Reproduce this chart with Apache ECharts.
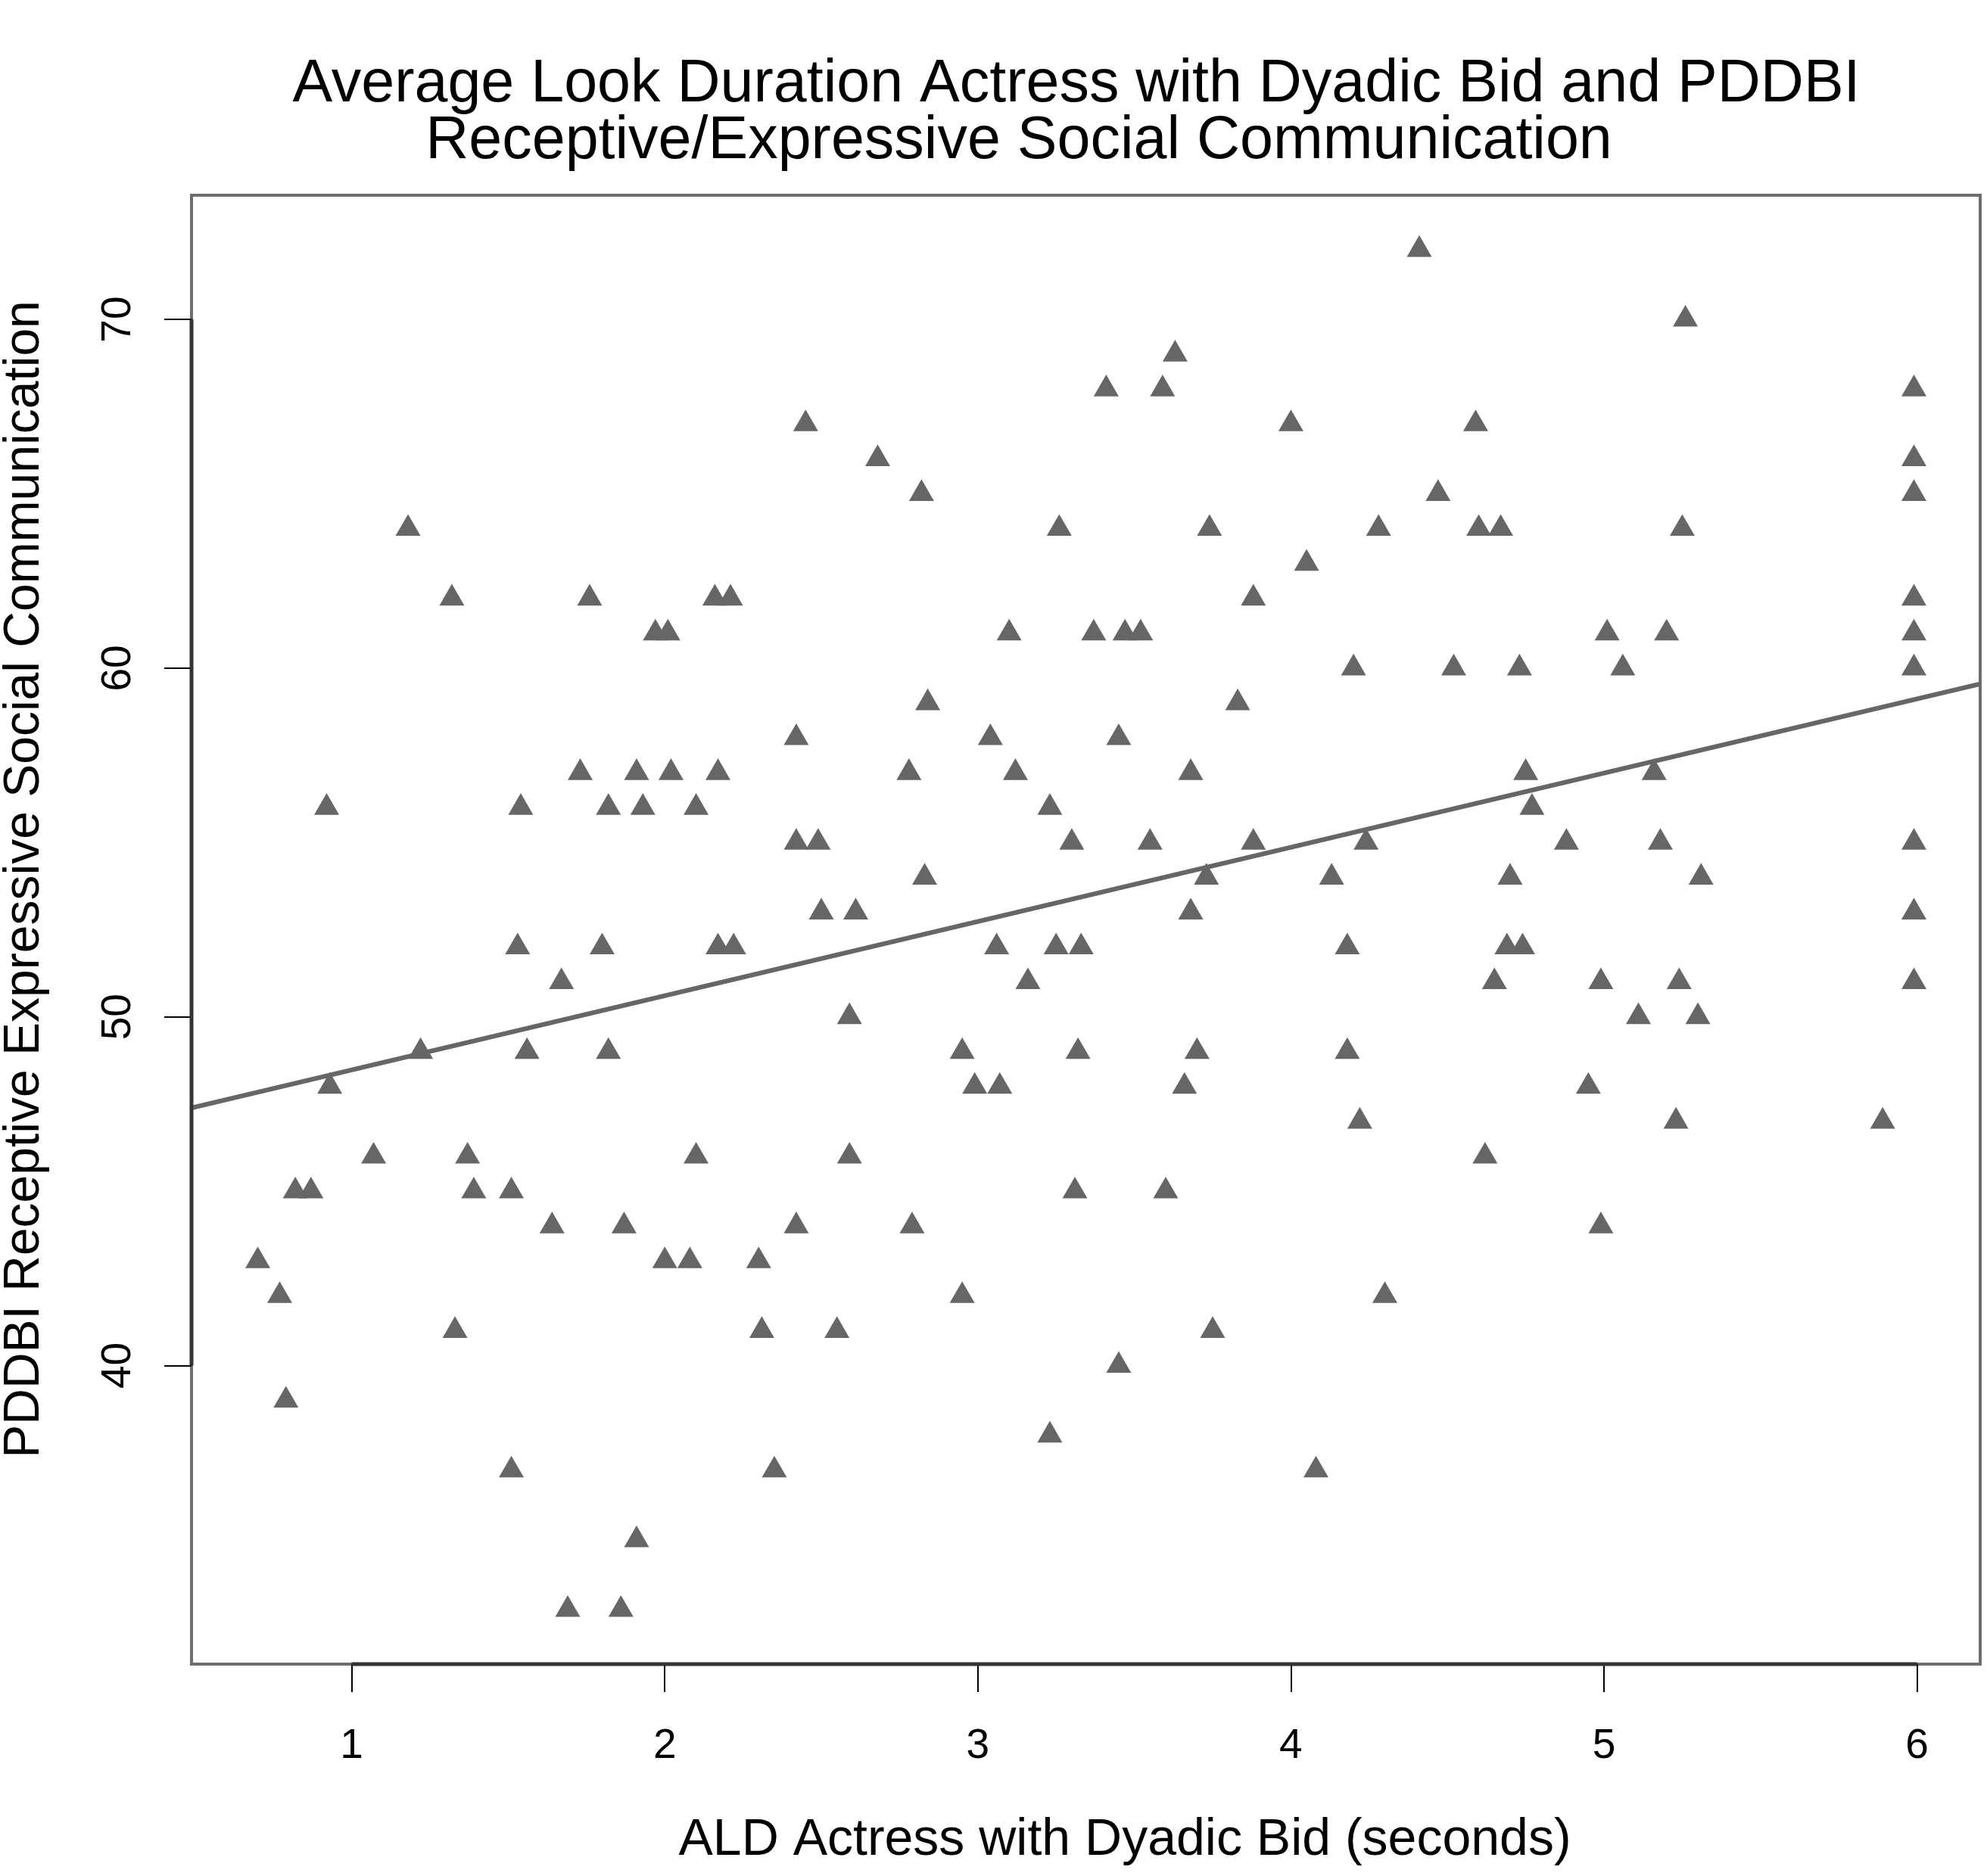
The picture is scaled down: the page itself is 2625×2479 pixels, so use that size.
<!DOCTYPE html>
<html>
<head>
<meta charset="utf-8">
<script src="https://cdn.jsdelivr.net/npm/echarts@6/dist/echarts.min.js"></script>
<style>
html,body{margin:0;padding:0;background:#fff;}
#chart{width:2625px;height:2479px;}
</style>
</head>
<body>
<div id="chart"></div>
<script>
// ---- Data ----
const titleLine1 = "Average Look Duration Actress with Dyadic Bid and PDDBI";
const titleLine2 = "Receptive/Expressive Social Communication";
const xAxisTitle = "ALD Actress with Dyadic Bid (seconds)";
const yAxisTitle = "PDDBI Receptive Expressive Social Communication";

const xTicks = [1, 2, 3, 4, 5, 6];
const yTicks = [40, 50, 60, 70];

const aldSeconds = [
  0.70, 0.77, 0.79, 0.82, 0.87, 0.92, 0.93, 1.07, 1.18, 1.22,
  1.32, 1.33, 1.37, 1.39, 1.51, 1.51, 1.53, 1.54, 1.56, 1.64,
  1.67, 1.69, 1.73, 1.76, 1.80, 1.82, 1.82, 1.86, 1.87, 1.91,
  1.91, 1.93, 1.97, 2.01, 2.00, 2.02, 2.08, 2.10, 2.10, 2.16,
  2.17, 2.17, 2.21, 2.22, 2.30, 2.31, 2.35, 2.42, 2.42, 2.42,
  2.45, 2.49, 2.50, 2.55, 2.59, 2.59, 2.61, 2.68, 2.78, 2.79,
  2.82, 2.83, 2.84, 2.95, 2.95, 2.99, 3.04, 3.06, 3.07, 3.10,
  3.12, 3.16, 3.23, 3.23, 3.25, 3.26, 3.30, 3.32, 3.31, 3.33,
  3.37, 3.41, 3.45, 3.45, 3.47, 3.52, 3.55, 3.59, 3.60, 3.63,
  3.66, 3.68, 3.68, 3.70, 3.73, 3.74, 3.75, 3.83, 3.88, 3.88,
  4.00, 4.05, 4.08, 4.13, 4.18, 4.18, 4.20, 4.22, 4.24, 4.28,
  4.30, 4.41, 4.47, 4.52, 4.59, 4.60, 4.62, 4.65, 4.67, 4.69,
  4.70, 4.73, 4.74, 4.75, 4.77, 4.88, 4.95, 4.99, 4.99, 5.01,
  5.06, 5.11, 5.16, 5.18, 5.20, 5.23, 5.24, 5.25, 5.26, 5.30,
  5.31, 5.89, 5.99, 5.99, 5.99, 5.99, 5.99, 5.99, 5.99, 5.99,
  5.99
];
const pddbiScores = [
  43, 42, 39, 45, 45, 56, 48, 46, 64, 49,
  62, 41, 46, 45, 45, 37, 52, 56, 49, 44,
  51, 33, 57, 62, 52, 56, 49, 33, 44, 35,
  57, 56, 61, 61, 43, 57, 43, 56, 46, 62,
  57, 52, 62, 52, 43, 41, 37, 58, 55, 44,
  67, 55, 53, 41, 50, 46, 53, 66, 57, 44,
  65, 54, 59, 42, 49, 48, 58, 52, 48, 61,
  57, 51, 56, 38, 52, 64, 55, 49, 45, 52,
  61, 68, 58, 40, 61, 61, 55, 68, 45, 69,
  48, 53, 57, 49, 54, 64, 41, 59, 62, 55,
  67, 63, 37, 54, 52, 49, 60, 47, 55, 64,
  42, 72, 65, 60, 67, 64, 46, 51, 64, 52,
  54, 60, 52, 57, 56, 55, 48, 51, 44, 61,
  60, 50, 57, 55, 61, 47, 51, 64, 70, 50,
  54, 47, 68, 66, 65, 62, 61, 60, 55, 53,
  51
];

// ---- Derived ----
const points = aldSeconds.map((x, i) => [x, pddbiScores[i]]);
function rExtent(arr) { // R default axis extension of 4%
  const lo = Math.min(...arr), hi = Math.max(...arr), d = (hi - lo) * 0.04;
  return [lo - d, hi + d];
}
const [xMin, xMax] = rExtent(aldSeconds);
const [yMin, yMax] = rExtent(pddbiScores);

// least-squares fit
const n = aldSeconds.length;
const mx = aldSeconds.reduce((s, v) => s + v, 0) / n;
const my = pddbiScores.reduce((s, v) => s + v, 0) / n;
let sxy = 0, sxx = 0;
for (let i = 0; i < n; i++) { sxy += (aldSeconds[i] - mx) * (pddbiScores[i] - my); sxx += (aldSeconds[i] - mx) ** 2; }
const slope = sxy / sxx, intercept = my - slope * mx;
const fitLine = [[xMin, intercept + slope * xMin], [xMax, intercept + slope * xMax]];

const FONT = '"Liberation Sans", Arial, Helvetica, sans-serif';
const GRAY = '#666666';

const chart = echarts.init(document.getElementById('chart'), null, { renderer: 'canvas' });
chart.setOption({
  backgroundColor: '#ffffff',
  animation: false,
  textStyle: { fontFamily: FONT },
  graphic: [
    { type: 'text', x: 1422, y: 112, style: { text: titleLine1, fontSize: 79, fontFamily: FONT, fill: '#000', align: 'center', verticalAlign: 'middle' } },
    { type: 'text', x: 1346, y: 187, style: { text: titleLine2, fontSize: 79, fontFamily: FONT, fill: '#000', align: 'center', verticalAlign: 'middle' } },
    { type: 'text', x: 1486, y: 2432, style: { text: xAxisTitle, fontSize: 68, fontFamily: FONT, fill: '#000', align: 'center', verticalAlign: 'middle' } },
    { type: 'text', x: 33, y: 1162, rotation: Math.PI / 2, style: { text: yAxisTitle, fontSize: 66, fontFamily: FONT, fill: '#000', align: 'center', verticalAlign: 'middle' } }
  ],
  grid: {
    left: 253, right: 9, top: 258, bottom: 280,
    containLabel: false, outerBoundsMode: 'none',
    show: true, borderColor: '#6e6e6e', borderWidth: 4, backgroundColor: 'transparent'
  },
  xAxis: {
    type: 'value', min: xMin, max: xMax,
    axisLine: { show: false },
    axisTick: { show: true, length: 37, lineStyle: { color: '#000', width: 2 }, customValues: xTicks },
    axisLabel: { show: true, fontSize: 55, color: '#000', margin: 81, customValues: xTicks, formatter: v => String(v) },
    splitLine: { show: false }
  },
  yAxis: {
    type: 'value', min: yMin, max: yMax,
    axisLine: { show: false },
    axisTick: { show: true, length: 36, lineStyle: { color: '#000', width: 2 }, customValues: yTicks },
    axisLabel: { show: true, fontSize: 55, color: '#000', margin: 69, rotate: 90, customValues: yTicks, formatter: v => String(v) },
    splitLine: { show: false }
  },
  series: [
    { // bottom axis segment from first to last tick
      type: 'line', data: [[xTicks[0], yMin], [xTicks[xTicks.length - 1], yMin]],
      symbol: 'none', clip: false, silent: true, z: 5,
      lineStyle: { color: '#333333', width: 5 }
    },
    { // left axis segment from first to last tick
      type: 'line', data: [[xMin, yTicks[0]], [xMin, yTicks[yTicks.length - 1]]],
      symbol: 'none', clip: false, silent: true, z: 5,
      lineStyle: { color: '#333333', width: 5 }
    },
    {
      type: 'scatter', data: points, symbol: 'triangle', symbolSize: [33, 28.6], symbolOffset: [0, -4.8],
      itemStyle: { color: GRAY, opacity: 1 }, z: 3
    },
    {
      type: 'line', data: fitLine, symbol: 'none', clip: true, silent: true, z: 4,
      lineStyle: { color: GRAY, width: 6 }
    }
  ]
});
</script>
</body>
</html>
